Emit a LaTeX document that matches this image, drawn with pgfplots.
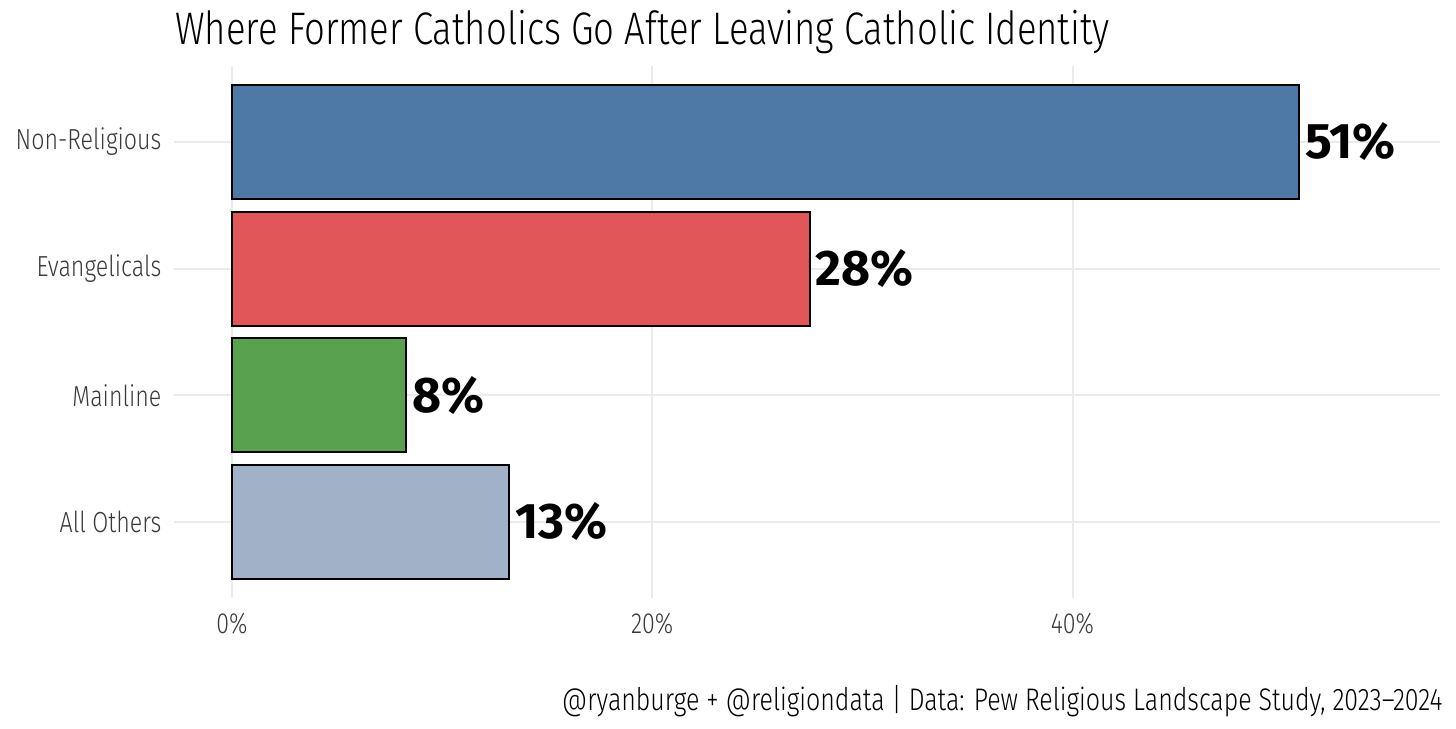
\documentclass[border=0pt]{standalone}
\usepackage{fontspec}
\setmainfont{Fira Sans Light}[FakeStretch=0.8, BoldFont={Fira Sans Bold}, BoldFeatures={FakeStretch=1.0}]
\usepackage{pgfplots}
\pgfplotsset{compat=1.18}
\definecolor{cBlue}{HTML}{4E79A7}
\definecolor{cRed}{HTML}{E15759}
\definecolor{cGreen}{HTML}{59A14F}
\definecolor{cGray}{HTML}{A0B1C8}
\definecolor{gridc}{HTML}{EBEBEB}
\definecolor{tickc}{HTML}{3A3A3A}
\begin{document}
\begin{tikzpicture}
\useasboundingbox (-87pt,-65pt) rectangle (641pt,299pt);
\begin{axis}[
  at={(0,0)}, anchor=origin,
  scale only axis, width=633pt, height=266pt,
  anchor=south west,
  xmin=-2.76, xmax=57.49, ymin=0.4, ymax=4.6,
  xbar, bar width=0.9, bar shift=0pt,
  axis line style={draw=none},
  tick style={draw=none},
  xtick={0,20,40}, xticklabels={0\%,20\%,40\%},
  ytick={1,2,3,4}, yticklabels={All Others,Mainline,Evangelicals,Non-Religious},
  grid=major, grid style={gridc, line width=1pt},
  ticklabel style={font=\fontsize{14.5}{16}\selectfont, text=tickc},
  xticklabel style={yshift=-4pt},
  yticklabel style={xshift=1.5pt},
  /pgf/number format/assume math mode=true,
  point meta=explicit symbolic,
  nodes near coords,
  nodes near coords style={font=\bfseries\fontsize{25}{27}\selectfont, text=black, anchor=west, xshift=-1pt},
  clip=false,
]
\addplot[fill=cBlue, draw=black, line width=1pt] coordinates {(50.8,4) [51\%]};
\addplot[fill=cRed, draw=black, line width=1pt] coordinates {(27.5,3) [28\%]};
\addplot[fill=cGreen, draw=black, line width=1pt] coordinates {(8.3,2) [8\%]};
\addplot[fill=cGray, draw=black, line width=1pt] coordinates {(13.2,1) [13\%]};
\end{axis}
\node[anchor=base west, inner sep=0pt, font=\fontsize{22.8}{25}\selectfont] at (0.5pt,276.5pt) {Where Former Catholics Go After Leaving Catholic Identity};
\node[anchor=base east, inner sep=0pt, font=\fontsize{15.6}{17}\selectfont] at (634.5pt,-56pt) {@ryanburge + @religiondata | Data: Pew Religious Landscape Study, 2023--2024};
\end{tikzpicture}
\end{document}
